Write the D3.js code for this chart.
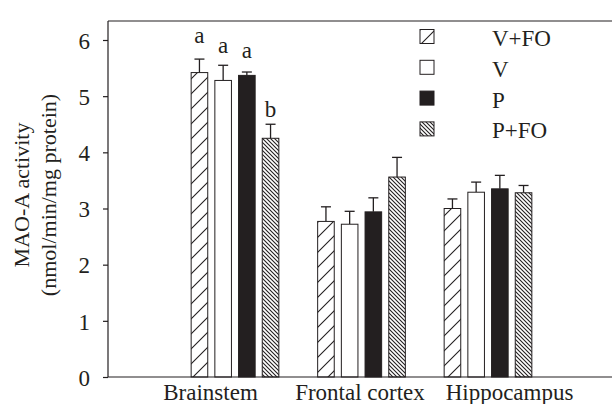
<!DOCTYPE html>
<html><head><meta charset="utf-8">
<script src="https://cdn.jsdelivr.net/npm/d3@7"></script>
<style>body{margin:0;background:#fff}svg{display:block}text{font-family:"Liberation Serif","Times New Roman",serif;fill:#231f20}</style>
</head><body><svg id="c" width="612" height="404"></svg>
<script>
const categories = ["Brainstem", "Frontal cortex", "Hippocampus"];
const seriesNames = ["V+FO", "V", "P", "P+FO"];
const vfoMean = [5.42, 2.77, 3.00];
const vfoErr  = [0.24, 0.26, 0.17];
const vMean   = [5.28, 2.72, 3.29];
const vErr    = [0.27, 0.23, 0.18];
const pMean   = [5.37, 2.94, 3.35];
const pErr    = [0.06, 0.25, 0.24];
const pfoMean = [4.25, 3.56, 3.28];
const pfoErr  = [0.25, 0.35, 0.13];
const sigLetters = ["a", "a", "a", "b"];
const sigLetterPos = [5.95, 5.77, 5.68, 4.63];
const yTicks = [0, 1, 2, 3, 4, 5, 6];

const means = [vfoMean, vMean, pMean, pfoMean];
const errs = [vfoErr, vErr, pErr, pfoErr];
const ink = "#231f20";
const fills = ["url(#hatchA)", "#fff", ink, "url(#hatchB)"];

const svg = d3.select("#c");
const defs = svg.append("defs");
// sparse "/" hatch
const pa = defs.append("pattern").attr("id","hatchA").attr("patternUnits","userSpaceOnUse")
  .attr("width",15).attr("height",15);
pa.append("rect").attr("width",15).attr("height",15).attr("fill","#fff");
pa.append("path").attr("d","M0,15 L15,0 M-3,3 L3,-3 M12,18 L18,12").attr("stroke",ink).attr("stroke-width",1.1);
// dense "\" hatch
const pb = defs.append("pattern").attr("id","hatchB").attr("patternUnits","userSpaceOnUse")
  .attr("width",4).attr("height",4);
pb.append("rect").attr("width",4).attr("height",4).attr("fill","#fff");
pb.append("path").attr("d","M0,0 L4,4 M-1,3 L1,5 M3,-1 L5,1").attr("stroke",ink).attr("stroke-width",1.1);

const y = d3.scaleLinear().domain([0, 6]).range([377, 40]);
const x0 = d3.scaleBand().domain(categories).range([171.75, 551.25]).padding(0);
const x1 = d3.scaleBand().domain(seriesNames).range([15.85, 110.65]).paddingInner(0.3).paddingOuter(0.15);
const xLabel = d3.scalePoint().domain(categories).range([210, 509]);

// frame top line
svg.append("line").attr("x1",108).attr("x2",612).attr("y1",21).attr("y2",21).attr("stroke",ink).attr("stroke-width",1.2);

// bars
seriesNames.forEach((s, si) => {
  const g = svg.append("g");
  categories.forEach((c, ci) => {
    const xs = x0(c) + x1(s);
    const w = x1.bandwidth();
    const m = means[si][ci], e = errs[si][ci];
    g.append("line").attr("x1", xs + w/2).attr("x2", xs + w/2)
      .attr("y1", y(m)).attr("y2", y(m + e)).attr("stroke", ink).attr("stroke-width", 1.3);
    g.append("line").attr("x1", xs + w/2 - 5).attr("x2", xs + w/2 + 5)
      .attr("y1", y(m + e)).attr("y2", y(m + e)).attr("stroke", ink).attr("stroke-width", 1.3);
    g.append("rect").attr("x", xs).attr("y", y(m)).attr("width", w).attr("height", y(0) - y(m))
      .attr("fill", fills[si]).attr("stroke", ink).attr("stroke-width", 1);
  });
});

// significance letters (Brainstem)
seriesNames.forEach((s, si) => {
  svg.append("text").attr("x", x0(categories[0]) + x1(s) + x1.bandwidth()/2)
    .attr("y", y(sigLetterPos[si])).attr("text-anchor","middle").attr("font-size",23)
    .text(sigLetters[si]);
});

// y axis
const ya = svg.append("g").attr("transform","translate(108,0)")
  .call(d3.axisLeft(y).tickValues(yTicks).tickSize(5).tickPadding(13).tickFormat(d3.format("d")));
ya.select(".domain").attr("d","M0,21V377").attr("stroke",ink).attr("stroke-width",1.2);
ya.selectAll(".tick line").attr("stroke",ink).attr("stroke-width",1.2);
ya.selectAll(".tick text").attr("font-size",23).attr("font-family","Liberation Serif").attr("fill",ink).attr("dy","0.36em");

// x axis
const xa = svg.append("g").attr("transform","translate(0,377)")
  .call(d3.axisBottom(xLabel).tickSize(0).tickPadding(0));
xa.select(".domain").attr("d","M108,0H612").attr("stroke",ink).attr("stroke-width",1.2);
xa.selectAll(".tick text").attr("font-size",23).attr("font-family","Liberation Serif").attr("fill",ink)
  .attr("dy",null).attr("y",23);

// y title
const yt = svg.append("text").attr("transform","translate(0,195) rotate(-90)").attr("text-anchor","middle").attr("font-size",22);
yt.append("tspan").attr("x",0).attr("y",29).text("MAO-A activity");
yt.append("tspan").attr("x",0).attr("y",56).text("(nmol/min/mg protein)");

// legend
const leg = svg.append("g");
seriesNames.forEach((s, si) => {
  const cy = 36.5 + si * 30.8;
  leg.append("rect").attr("x",420).attr("y",cy - 7).attr("width",14).attr("height",14)
    .attr("fill",fills[si]).attr("stroke",ink).attr("stroke-width",1);
  leg.append("text").attr("x",492).attr("y",cy + 9.5).attr("font-size",23).text(s);
});
</script></body></html>
